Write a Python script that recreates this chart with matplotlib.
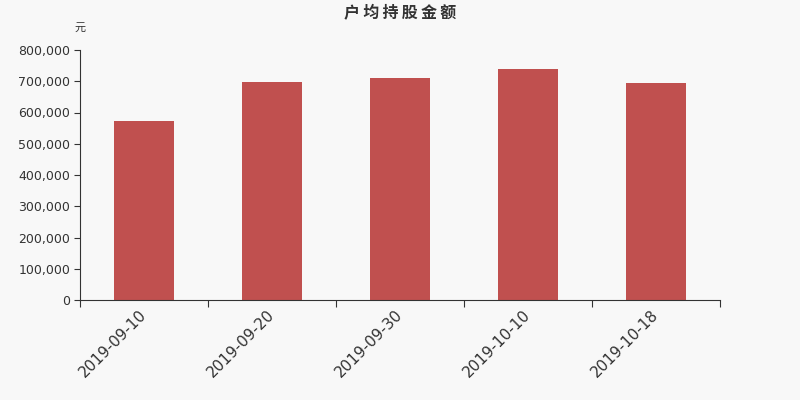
import matplotlib
matplotlib.use('Agg')
import matplotlib.pyplot as plt
from matplotlib.ticker import FuncFormatter, FixedLocator
import numpy as np

# data
dates = ['2019-09-10', '2019-09-20', '2019-09-30', '2019-10-10', '2019-10-18']
amounts = [572800, 699000, 710400, 739200, 694400]
y_ticks = [0, 100000, 200000, 300000, 400000, 500000, 600000, 700000, 800000]
title = '户均持股金额'

plt.rcParams['font.family'] = ['DejaVu Sans', 'Noto Sans CJK SC']

bg = '#f8f8f8'
fig = plt.figure(figsize=(8, 4), dpi=100, facecolor=bg)
ax = fig.add_axes([0.1, 0.25, 0.8, 0.625], facecolor=bg)

x = np.arange(len(dates))
ax.bar(x, amounts, width=0.47, color='#c0504f')

ax.set_xlim(-0.5, len(dates) - 0.5)
ax.set_ylim(0, 800000)
ax.set_yticks(y_ticks)
ax.yaxis.set_major_formatter(FuncFormatter(lambda v, p: '{:,}'.format(int(v))))

# ticks at category boundaries, labels at centres
ax.xaxis.set_major_locator(FixedLocator(np.arange(-0.5, len(dates), 1.0)))
ax.xaxis.set_major_formatter(FuncFormatter(lambda v, p: ''))
ax.xaxis.set_minor_locator(FixedLocator(x))
ax.set_xticklabels(dates, minor=True, rotation=45, ha='right', va='center',
                   rotation_mode='anchor', fontsize=11, color='#333333')
ax.tick_params(axis='x', which='minor', length=0, pad=9)
ax.tick_params(axis='x', which='major', length=5, color='#333333')
ax.tick_params(axis='y', length=4, pad=3, color='#333333', labelsize=9, labelcolor='#333333')

for s in ['top', 'right']:
    ax.spines[s].set_visible(False)
for s in ['left', 'bottom']:
    ax.spines[s].set_color('#333333')

cjk = ['Noto Sans CJK SC', 'DejaVu Sans']
fig.text(0.5, 0.968, '\u2009'.join(title), ha='center', va='center', fontsize=11.5,
         fontweight='bold', color='#333333', family=cjk)
fig.text(0.1, 0.93, '元', ha='center', va='center', fontsize=8,
         color='#333333', family=cjk)

plt.savefig('out.png', dpi=100, facecolor=bg)
